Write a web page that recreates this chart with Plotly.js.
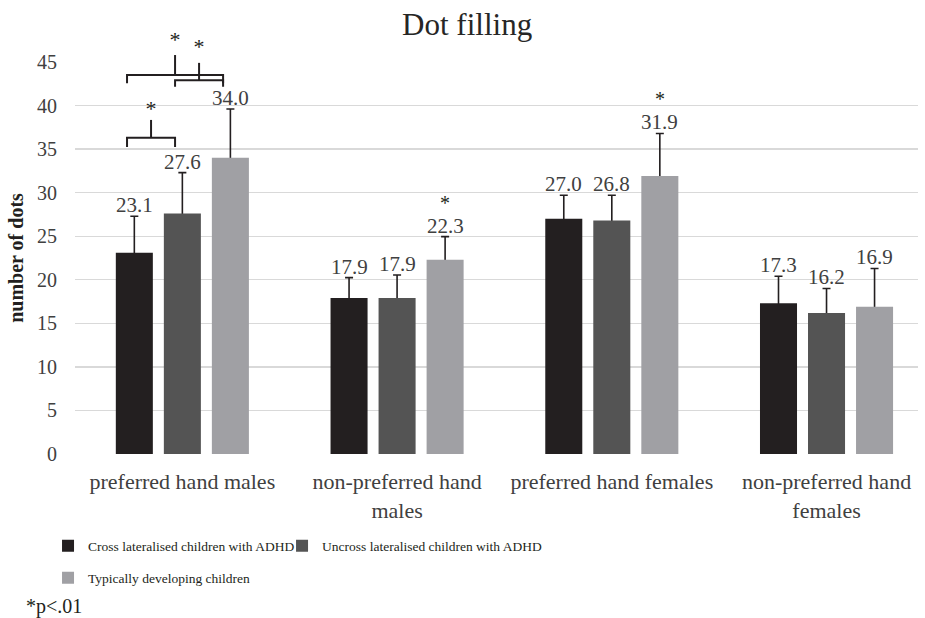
<!DOCTYPE html>
<html>
<head>
<meta charset="utf-8">
<script src="https://cdn.plot.ly/plotly-3.0.1.min.js"></script>
<style>html,body{margin:0;padding:0;background:#fff;}#chart{width:925px;height:618px;}</style>
</head>
<body>
<div id="chart"></div>
<script>
// ---- data ----
const categories = ["preferred hand males", "non-preferred hand<br>males", "preferred hand females", "non-preferred hand<br>females"];
const seriesNames = ["Cross lateralised children with ADHD", "Uncross lateralised children with ADHD", "Typically developing children"];
const crossADHD = [23.1, 17.9, 27.0, 17.3];
const uncrossADHD = [27.6, 17.9, 26.8, 16.2];
const typical = [34.0, 22.3, 31.9, 16.9];
const crossErr = [4.2, 2.35, 2.7, 3.1];
const uncrossErr = [4.7, 2.65, 2.9, 2.8];
const typicalErr = [5.6, 2.65, 4.9, 4.4];
const yTicks = [0, 5, 10, 15, 20, 25, 30, 35, 40, 45];
// significance marks: single stars over labels, and brackets in group 0
const labelStars = [{cat: 1, s: 2}, {cat: 2, s: 2}];
const brackets = [
  {cat: 0, a: 0, b: 1, y: 36.3, hook: 1.05, tick: 2.05, star: 39.45},
  {cat: 0, a: 0, b: 2, y: 43.5, hook: 0.95, tick: 2.3, star: 47.35},
  {cat: 0, a: 1, b: 2, y: 42.9, hook: 0.75, tick: 2.0, star: 46.55}
];

const colors = ["#231f20", "#545454", "#a0a0a4"];
const values = [crossADHD, uncrossADHD, typical];
const errs = [crossErr, uncrossErr, typicalErr];
const yMax = 45;
const yDomTop = 392 / 424;            // top of the value axis inside the plot region
const bargap = 0.329;
const slot = (1 - bargap) / 3;
const idx = categories.map((_, i) => i);
const serif = "Liberation Serif, Times New Roman, serif";
const ink = "#231f20";
const legendIds = ["legend", "legend2", "legend3"];

const traces = [];
// error bars (drawn beneath the bars so only the upper half shows)
values.forEach((vals, s) => {
  traces.push({
    type: "bar", x: idx, y: vals, offsetgroup: "g" + s, showlegend: false, hoverinfo: "skip",
    marker: {color: "rgba(0,0,0,0)", line: {width: 0}},
    error_y: {type: "data", array: errs[s], symmetric: true, color: ink, thickness: 1.6, width: 4}
  });
});
values.forEach((vals, s) => {
  traces.push({
    type: "bar", name: seriesNames[s], x: idx, y: vals, offsetgroup: "g" + s,
    marker: {color: colors[s], line: {width: 0}},
    legend: legendIds[s],
    hoverinfo: "y"
  });
});

// bracket lines on the full-height overlay axis
const bx = [], by = [];
const inset = -0.034;
brackets.forEach(b => {
  const x1 = b.cat + (b.a - 1) * slot + inset;
  const x2 = b.cat + (b.b - 1) * slot + inset;
  const xc = (x1 + x2) / 2;
  bx.push(x1, x1, x2, x2, null, xc, xc, null);
  by.push(b.y - b.hook, b.y, b.y, b.y - b.hook, null, b.y, b.y + b.tick, null);
});
traces.push({type: "scatter", mode: "lines", x: bx, y: by, yaxis: "y2", cliponaxis: false,
  line: {color: ink, width: 2}, showlegend: false, hoverinfo: "skip"});
traces.push({type: "scatter", mode: "text", yaxis: "y2", cliponaxis: false, showlegend: false, hoverinfo: "skip",
  x: brackets.map(b => b.cat + ((b.a + b.b) / 2 - 1) * slot + inset),
  y: brackets.map(b => b.star), text: brackets.map(() => "*"), textposition: "middle center",
  textfont: {family: serif, size: 22, color: ink}});

const annotations = [];
values.forEach((vals, s) => {
  vals.forEach((v, c) => {
    annotations.push({x: c + (s - 1) * slot, y: v + errs[s][c], xref: "x", yref: "y",
      text: v.toFixed(1), showarrow: false, yanchor: "bottom", xanchor: "center", yshift: -3,
      font: {family: serif, size: 21, color: "#404040"}});
  });
});
labelStars.forEach(st => {
  annotations.push({x: st.cat + (st.s - 1) * slot, y: values[st.s][st.cat] + errs[st.s][st.cat],
    xref: "x", yref: "y", text: "*", showarrow: false, yanchor: "middle", yshift: 34,
    font: {family: serif, size: 20, color: ink}});
});
annotations.push({x: -0.0605, y: -0.3585, xref: "paper", yref: "paper", xanchor: "left", yanchor: "middle",
  text: "*p<.01", showarrow: false, font: {family: serif, size: 20, color: ink}});

const legendFont = {family: serif, size: 13.5, color: ink};
const layout = {
  width: 925, height: 618,
  margin: {l: 75, r: 7, t: 30, b: 164},
  paper_bgcolor: "#fff", plot_bgcolor: "rgba(0,0,0,0)",
  font: {family: serif, color: "#404040"},
  title: {text: "Dot filling", xref: "container", yref: "container", x: 0.505, y: 0.961,
          xanchor: "center", yanchor: "middle", font: {family: serif, size: 31, color: "#262626"}},
  barmode: "group", bargap: bargap, bargroupgap: 0.229,
  xaxis: {type: "linear", range: [-0.5, 3.426], tickvals: idx, ticktext: categories, anchor: "y",
          showgrid: false, zeroline: false, showline: false, ticks: "", ticklabelstandoff: 12,
          tickfont: {family: serif, size: 22, color: "#404040"}, fixedrange: true},
  yaxis: {domain: [0, yDomTop], range: [0, yMax], tickvals: yTicks, showgrid: true, gridcolor: "#d9d9d9", gridwidth: 1.4,
          zeroline: false, showline: false, ticks: "", ticklabelstandoff: 17,
          tickfont: {family: serif, size: 20, color: "#404040"},
          title: {text: "<b>number of dots</b>", standoff: 8, font: {family: serif, size: 20, color: ink}},
          fixedrange: true},
  yaxis2: {domain: [0, 1], range: [0, yMax / yDomTop], anchor: "x", visible: false, showgrid: false,
           zeroline: false, fixedrange: true},
  showlegend: true,
  legend: {orientation: "h", x: -0.032, y: -0.217, xanchor: "left", yanchor: "middle",
           font: legendFont, bgcolor: "rgba(0,0,0,0)"},
  legend2: {orientation: "h", x: 0.2456, y: -0.217, xanchor: "left", yanchor: "middle",
            font: legendFont, bgcolor: "rgba(0,0,0,0)"},
  legend3: {orientation: "h", x: -0.032, y: -0.2925, xanchor: "left", yanchor: "middle",
            font: legendFont, bgcolor: "rgba(0,0,0,0)"},
  annotations: annotations
};

Plotly.newPlot("chart", traces, layout, {displayModeBar: false, staticPlot: true});
</script>
</body>
</html>
